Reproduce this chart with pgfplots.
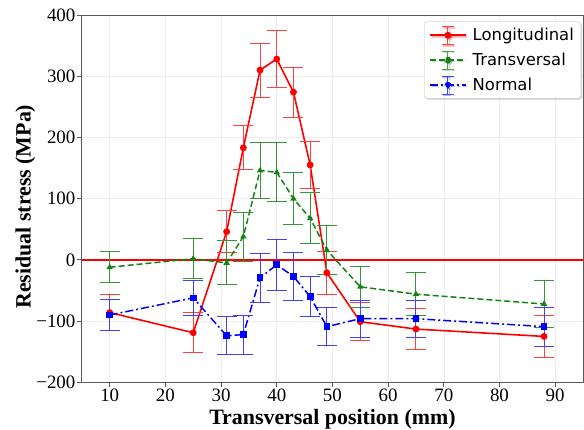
\documentclass[border=0pt]{standalone}
\usepackage{fontspec}
\setmainfont{Liberation Serif}
\newfontfamily\legfont{DejaVu Sans}
\usepackage{pgfplots}
\usepackage{pgfplotstable}
\pgfplotsset{compat=1.18}
\usetikzlibrary{shadows}

\definecolor{lred}{RGB}{255,0,0}
\definecolor{lgreen}{RGB}{20,130,20}
\definecolor{lblue}{RGB}{0,0,255}

% x  y  err
\pgfplotstableread{
x y e
10 -86 30
25 -119 33
31 46 34
34 183 36
37 310 44
40 328 47
43 274 41
46 155 38
49 -21 35
55 -101 31
65 -113 33
88 -125 35
}\longtab
\pgfplotstableread{
x y e
10 -12 25
25 2 33
31 -5 36
34 38 40
37 146 45
40 143 48
43 100 43
46 68 42
49 16 40
55 -44 34
65 -56 35
88 -72 38
}\transtab
\pgfplotstableread{
x y e
10 -90 26
25 -62 29
31 -124 31
34 -122 32
37 -29 40
40 -8 42
43 -27 39
46 -60 33
49 -109 31
55 -96 30
65 -96 30
88 -109 32
}\normtab

\pgfplotsset{
  ebleg/.style={legend image code/.code={
    \draw[##1, mark=none] (0bp,0bp) -- (36bp,0bp);
    \draw[#1!75!white, solid, line width=1pt]
      (18bp,-9bp) -- (18bp,9bp) (12bp,9bp) -- (24bp,9bp) (12bp,-9bp) -- (24bp,-9bp);
    \fill[#1] (18bp,0bp) circle (2.6bp);
  }},
}

\begin{document}
\begin{tikzpicture}
\begin{axis}[
  name=ax,
  scale only axis, width=502bp, height=368bp,
  xmin=5, xmax=95, ymin=-200, ymax=400,
  xtick={10,20,...,90},
  ytick={-200,-100,0,100,200,300,400},
  yticklabels={−200,−100,0,100,200,300,400},
  grid=major, grid style={gray!15, line width=0.6pt},
  axis line style={gray!70!black, line width=0.8pt},
  tick align=outside, tick pos=left, major tick length=5bp,
  tick style={gray!70!black, line width=0.8pt},
  /pgf/number format/assume math mode=true,
  tick label style={font=\fontsize{19}{22}\selectfont},
  xticklabel style={yshift=2bp},
  yticklabel style={xshift=2bp},
  label style={font=\bfseries\fontsize{22}{25}\selectfont},
  xlabel={Transversal position (mm)},
  ylabel={Residual stress (MPa)},
  xlabel style={at={(axis description cs:0.5,0)}, anchor=south, yshift=-50bp},
  ylabel style={at={(axis description cs:0,0.5)}, anchor=north, yshift=70bp, xshift=-8bp},
  legend style={font=\legfont\fontsize{16.5}{19}\selectfont,
    at={(0.996,0.982)}, anchor=north east, draw=gray!50, rounded corners=3pt,
    fill=white, drop shadow={opacity=0.25, shadow xshift=1.5bp, shadow yshift=-1.5bp},
    row sep=6bp, column sep=4bp, inner xsep=5bp, inner ysep=4bp},
  legend cell align=left,
]
\addplot[lred, line width=1.5pt, forget plot] coordinates {(5,0) (95,0)};
\addplot[lred, solid, line width=1.6pt, mark=*, mark size=2.6bp, ebleg=lred,
  error bars/.cd, y dir=both, y explicit,
  error bar style={draw=lred!75!white, line width=1pt, solid},
  error mark options={rotate=90, mark size=10bp, draw=lred!75!white, line width=1pt, solid}]
  table[x=x, y=y, y error=e] {\longtab};
\addlegendentry{Longitudinal}
\addplot[lgreen, dash pattern=on 6bp off 3bp, line width=1.5pt, mark=triangle*, mark size=2.2bp,
  mark options={solid}, ebleg=lgreen,
  error bars/.cd, y dir=both, y explicit,
  error bar style={draw=lgreen!85!white, line width=1pt, solid},
  error mark options={rotate=90, mark size=10bp, draw=lgreen!85!white, line width=1pt, solid}]
  table[x=x, y=y, y error=e] {\transtab};
\addlegendentry{Transversal}
\addplot[lblue, dash pattern=on 8bp off 3bp on 2bp off 3bp, line width=1.5pt, mark=square*, mark size=2.6bp,
  mark options={solid}, ebleg=lblue,
  error bars/.cd, y dir=both, y explicit,
  error bar style={draw=lblue!75!white, line width=1pt, solid},
  error mark options={rotate=90, mark size=10bp, draw=lblue!75!white, line width=1pt, solid}]
  table[x=x, y=y, y error=e] {\normtab};
\addlegendentry{Normal}
\end{axis}
\pgfresetboundingbox
\useasboundingbox ([shift={(-82bp,-47bp)}]ax.south west) rectangle ([shift={(1bp,15bp)}]ax.north east);
\end{tikzpicture}
\end{document}
